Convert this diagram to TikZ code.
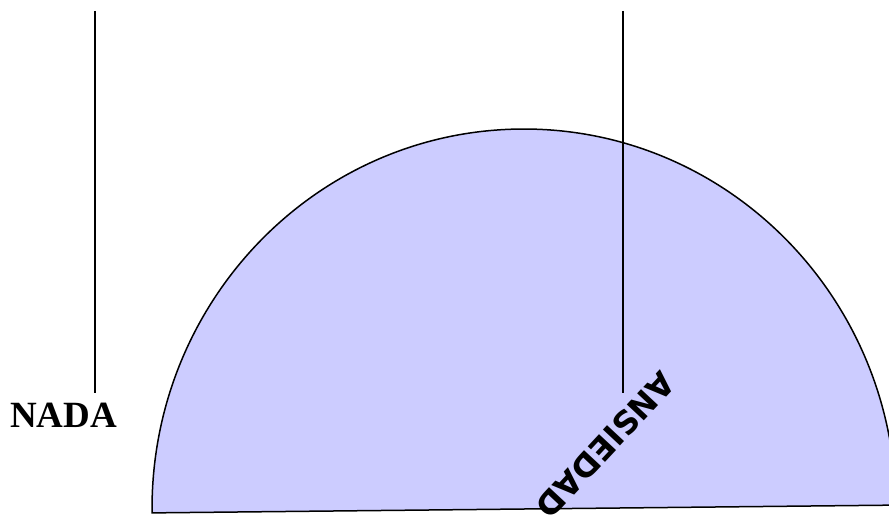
\documentclass[tikz,border=0pt]{standalone}
\usepackage{fontspec}
\setmainfont{Liberation Serif}
\newfontfamily\labsans{DejaVu Sans}
\definecolor{halffill}{HTML}{CCCCFF}
\tikzset{
  halfdisk/.style={fill=halffill, draw=black, line width=1.5pt},
  guide/.style={draw=black, line width=1.3pt},
  lbl/.style={inner sep=0pt, text=black}
}
\begin{document}
\begin{tikzpicture}[x=1pt,y=1pt]
\useasboundingbox (0,0) rectangle (889,515);
\begin{scope}
\clip (0,0) rectangle (889,515);
\draw[halfdisk, rotate around={0.6:(524,6)}] (896,6) arc[start angle=0, end angle=180, x radius=372, y radius=380] -- cycle;
\node[lbl, font=\labsans\bfseries\fontsize{32}{32}\selectfont, rotate=227, anchor=base west] (ansiedad) at (661,146) {ANSIEDAD};
\end{scope}
\node[lbl, font=\bfseries\fontsize{37}{37}\selectfont, anchor=base west] (nada) at (10,88) {NADA};
\coordinate (ltop) at (95,504);
\coordinate (lbot) at (95,122);
\coordinate (rtop) at (623,504);
\coordinate (rbot) at (623,122);
\draw[guide] (ltop) -- (lbot);
\draw[guide] (rtop) -- (rbot);
\end{tikzpicture}
\end{document}
